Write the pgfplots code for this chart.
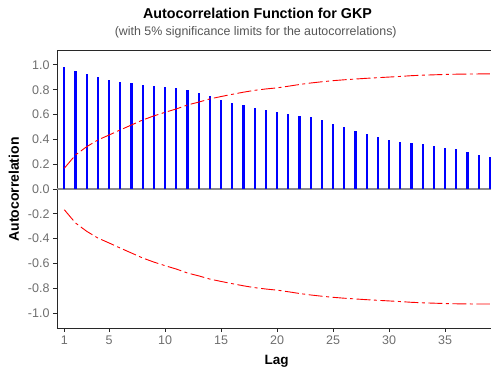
\documentclass[border=0pt]{standalone}
\usepackage{pgfplots}
\pgfplotsset{compat=1.18}
\usepackage{pgfplotstable}
\usepackage{fontspec}
\setmainfont{Liberation Sans}

\definecolor{framegray}{RGB}{40,40,40}
\definecolor{tickgray}{RGB}{110,110,110}
\definecolor{zerogray}{RGB}{140,140,140}
\definecolor{subgray}{RGB}{85,85,85}

% lag, autocorrelation, upper 5% limit
\pgfplotstableread{
lag acf upper
1 0.981 0.167
2 0.954 0.274
3 0.930 0.341
4 0.903 0.395
5 0.879 0.435
6 0.863 0.476
7 0.855 0.516
8 0.839 0.556
9 0.831 0.589
10 0.820 0.618
11 0.812 0.645
12 0.798 0.677
13 0.774 0.700
14 0.747 0.726
15 0.720 0.745
16 0.696 0.763
17 0.677 0.780
18 0.653 0.795
19 0.637 0.806
20 0.621 0.815
21 0.602 0.828
22 0.586 0.842
23 0.578 0.854
24 0.554 0.864
25 0.527 0.873
26 0.503 0.880
27 0.468 0.886
28 0.441 0.892
29 0.417 0.897
30 0.395 0.902
31 0.376 0.907
32 0.368 0.913
33 0.360 0.917
34 0.344 0.920
35 0.333 0.923
36 0.320 0.925
37 0.301 0.926
38 0.274 0.927
39 0.258 0.927
}\acfdata

\begin{document}
\begin{tikzpicture}
\begin{axis}[
  name=acf,
  at={(0,0)}, anchor=south west,
  scale only axis,
  width=434pt, height=278pt,
  xmin=0.348, xmax=39.1,
  ymin=-1.12, ymax=1.12,
  axis x line*=box,
  axis y line*=left,
  axis line style={framegray, line width=0.9pt},
  xtick={1,5,10,15,20,25,30,35},
  ytick={-1,-0.8,-0.6,-0.4,-0.2,0,0.2,0.4,0.6,0.8,1},
  yticklabel style={/pgf/number format/.cd, fixed, fixed zerofill, precision=1},
  /pgf/number format/assume math mode=true,
  ticklabel style={font=\fontsize{12.5}{14}\selectfont, text=tickgray},
  tick style={framegray, line width=0.8pt},
  tick align=outside,
  major tick length=4pt,
  xtick pos=bottom,
  ytick pos=left,
  clip=false,
]
  % zero reference line
  \addplot[zerogray, line width=1.6pt, forget plot] coordinates {(0.348,0) (39.1,0)};
  % autocorrelation spikes
  \addplot[ycomb, blue, line width=2.2pt] table[x=lag, y=acf] {\acfdata};
  % significance limits
  \addplot[red, line width=0.9pt, dash pattern=on 14pt off 3.5pt on 3pt off 3.5pt]
    table[x=lag, y=upper] {\acfdata};
  \addplot[red, line width=0.9pt, dash pattern=on 14pt off 3.5pt on 3pt off 3.5pt]
    table[x=lag, y expr=-\thisrow{upper}] {\acfdata};
\end{axis}
% titles and axis labels
\node[anchor=base, font=\bfseries\fontsize{14.3}{16}\selectfont] at (200.5pt,309.7pt)
  {Autocorrelation Function for GKP};
\node[anchor=base, font=\fontsize{12.4}{14}\selectfont, text=subgray] at (198.7pt,292.3pt)
  {(with 5\% significance limits for the autocorrelations)};
\node[anchor=base, font=\bfseries\fontsize{13.5}{15}\selectfont] at (219.7pt,-36.3pt) {Lag};
\node[anchor=base, rotate=90, font=\bfseries\fontsize{14}{16}\selectfont] at (-38pt,138.5pt)
  {Autocorrelation};
\pgfresetboundingbox
\path (-57pt,-43pt) rectangle (434pt,328pt);
\end{tikzpicture}
\end{document}
